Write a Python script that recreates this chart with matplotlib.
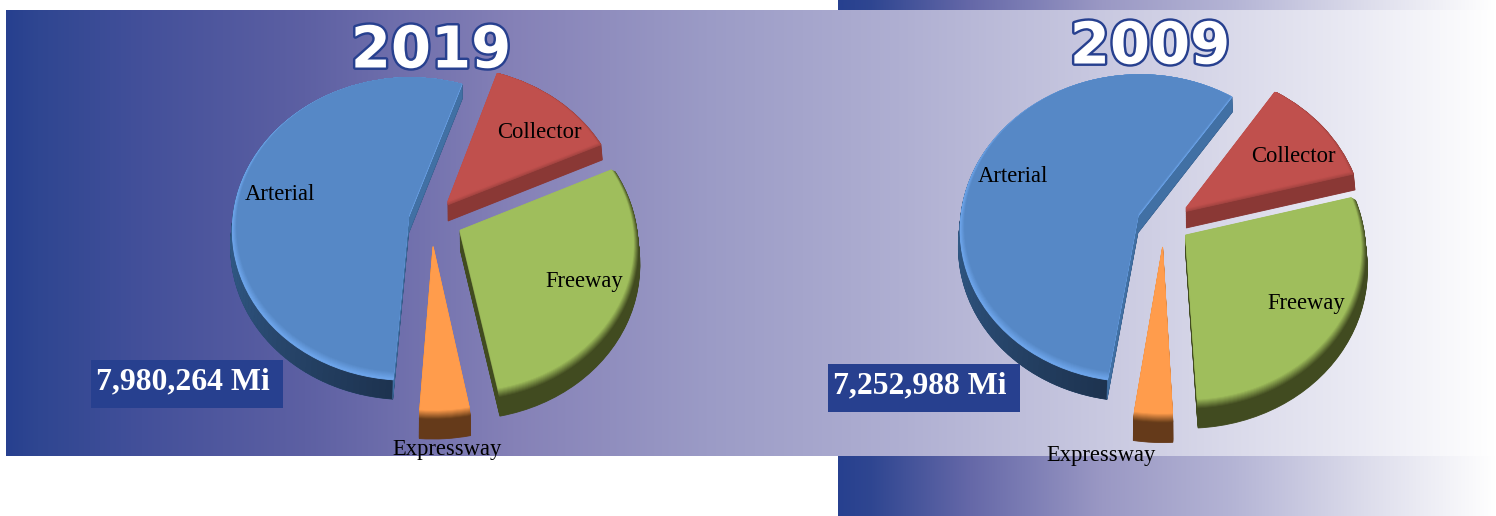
import numpy as np
import matplotlib
matplotlib.use("Agg")
import matplotlib.pyplot as plt
import matplotlib.patheffects as pe
from matplotlib.colors import to_rgb
from matplotlib.patches import Polygon, Rectangle
from matplotlib.transforms import Transform

# --- DATA (share of miles) -----------------------------------------------
categories = ["Collector", "Freeway", "Expressway", "Arterial"]
shares_2019 = [13.0, 28.8, 4.2, 54.0]
shares_2009 = [11.6, 28.2, 3.2, 57.0]
total_2019 = "7,980,264 Mi"
total_2009 = "7,252,988 Mi"

# --- STYLE ---------------------------------------------------------------
W, H = 1496, 516
face = ["#C0504D", "#9FBE5C", "#FF9C4C", "#5688C6"]
rim = ["#A34441", "#4A5526", "#6B3F1B", "#70A8EE"]
side = ["#8A3835", "#414B20", "#653A1A", "#284A72"]
cut_side = "#4170A4"
arc_side_light = "#3A6A9E"
arc_side_dark = "#1D3350"
navy = "#27408F"
serif = "Liberation Serif"
depth = 0.108

grad_x = [0, 0.02, 0.09, 0.2, 0.34, 0.47, 0.6, 0.77, 0.9, 1]
grad_c = ["#27408F", "#2F4691", "#43509A", "#5D60A3", "#8581B7", "#9B9BC6",
          "#AFAFD2", "#CFCFE4", "#E9E9F3", "#FFFFFF"]
bar_x = [0, 0.05, 0.2, 0.4, 0.6, 0.8, 1]
bar_c = ["#27408F", "#2F4691", "#6568A8", "#9A98C4", "#B4B4D5", "#DCDCEB", "#FFFFFF"]


class Tilt(Transform):
    """unit pie -> pixels, with a little perspective"""
    input_dims = output_dims = 2

    def __init__(self, cx, cy, r, s, k=0.078):
        super().__init__()
        self.cx, self.cy, self.r, self.s, self.k = cx, H - cy, r, s, k

    def transform_non_affine(self, xy):
        xy = np.asarray(xy, dtype=float)
        f = 1 + self.k * xy[:, 1]
        return np.column_stack([self.cx + self.r * xy[:, 0] / f,
                                self.cy + self.r * self.s * xy[:, 1] / f])


def gradient(ax, x0, x1, y0, y1, stops, cols, z):
    t = np.linspace(0, 1, 400)
    rgb = np.array([to_rgb(c) for c in cols])
    img = np.stack([np.interp(t, stops, rgb[:, i]) for i in range(3)], axis=1)[None, :, :]
    ax.imshow(img, extent=(x0, x1, H - y1, H - y0), aspect="auto", zorder=z,
              interpolation="bilinear")


def blend(a, b, t):
    a, b = np.array(to_rgb(a)), np.array(to_rgb(b))
    return tuple(a + (b - a) * t)


def draw_pie(ax, values, start, explode, tilt):
    tr = tilt + ax.transData

    def layer(colors, center=(0, 0), radius=1.0, z=3, lw=0.6):
        wedges, _ = ax.pie(values, colors=colors, explode=explode, startangle=start,
                           counterclock=False, center=center, radius=radius,
                           wedgeprops=dict(linewidth=lw, edgecolor="none"))
        for w, c in zip(wedges, colors):
            w.set_transform(tr)
            w.set_zorder(z)
            w.set_edgecolor(c)
        return wedges

    # the thick side, stacked downward
    for i in np.linspace(1, 0, 26):
        last = layer(side, center=(0, -depth * i))

    # lighter faces along the arterial's two cuts
    art = last[3]
    cx, cy = art.center
    for a in (art.theta1, art.theta2):
        ex = cx + np.cos(np.radians(a))
        ey = cy + np.sin(np.radians(a))
        ax.add_patch(Polygon([(cx, cy), (ex, ey), (ex, ey - depth), (cx, cy - depth)],
                             closed=True, fc=cut_side, ec=cut_side, lw=0.5,
                             transform=tr, zorder=3.2))

    # arterial's outer wall darkens towards the bottom right
    span = 110
    angs = np.radians(np.linspace(art.theta2 - span, art.theta2, 56))
    for j, (a0, a1) in enumerate(zip(angs[:-1], angs[1:])):
        c = blend(arc_side_light, arc_side_dark, j / 54)
        p = [(cx + np.cos(a0), cy + np.sin(a0)), (cx + np.cos(a1), cy + np.sin(a1)),
             (cx + np.cos(a1), cy + np.sin(a1) - depth), (cx + np.cos(a0), cy + np.sin(a0) - depth)]
        ax.add_patch(Polygon(p, closed=True, fc=c, ec=c, lw=0.4, transform=tr, zorder=3.1))

    # top surface with a soft rim
    steps = 9
    for i in range(steps + 1):
        t = i / steps
        cols = [blend(r, f, t) for r, f in zip(rim, face)]
        layer(cols, center=(0, 0.024 * t), radius=1 - 0.024 * t, z=4 + i * 0.01)


fig = plt.figure(figsize=(W / 100, H / 100), dpi=100)
ax = fig.add_axes([0, 0, 1, 1])

# backgrounds
gradient(ax, 838, 1496, 0, 516, bar_x, bar_c, 1)
gradient(ax, 6, 1496, 10, 456, grad_x, grad_c, 2)

draw_pie(ax, shares_2019, 71.5, [0.145, 0.185, 0.19, 0.13], Tilt(431, 221, 176, 0.858))
draw_pie(ax, shares_2009, 56.3, [0.153, 0.15, 0.165, 0.157], Tilt(1164, 225, 178, 0.865))

# slice labels
labels_2019 = [(539, 132), (584, 282), (447, 449), (280, 195)]
labels_2009 = [(1293, 156), (1306, 303), (1101, 455), (1013, 177)]
for pos in (labels_2019, labels_2009):
    for name, (x, y) in zip(categories, pos):
        ax.text(x, H - y, name, family=serif, fontsize=16.3, color="black",
                ha="center", va="center", zorder=8)

# totals
for x, y, s in [(91, 360, total_2019), (828, 364, total_2009)]:
    ax.add_patch(Rectangle((x, H - y - 48), 192, 48, fc=navy, ec="none", zorder=6))
    ax.text(x + 5, H - y - 22, s, family=serif, fontweight="bold", fontsize=22.9,
            color="white", ha="left", va="center", zorder=7)

# year titles
for x, y, s in [(431, 51, "2019"), (1150, 47, "2009")]:
    ax.text(x, H - y, s, family="DejaVu Sans", fontweight="bold", fontsize=41.5,
            color="white", ha="center", va="center", zorder=7,
            path_effects=[pe.withStroke(linewidth=3.5, foreground=navy)])

ax.set_aspect("auto")
ax.set_xlim(0, W)
ax.set_ylim(0, H)
ax.axis("off")
fig.savefig("out.png", dpi=100, facecolor="white")
